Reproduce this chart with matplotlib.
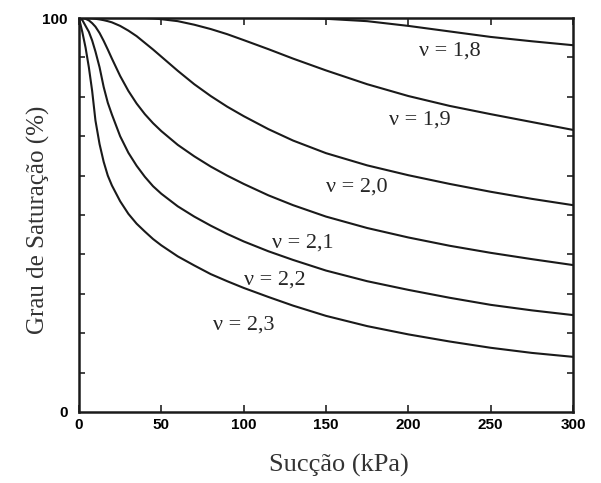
import matplotlib
matplotlib.use('Agg')
import matplotlib.pyplot as plt
from matplotlib.ticker import MultipleLocator

# Suction (kPa) and degree of saturation (%)
SUCTION = [0, 2, 4, 6, 8, 10, 12.5, 15, 17.5, 20, 25, 30, 35, 40, 45, 50,
           60, 70, 80, 90, 100, 115, 130, 150, 175, 200, 225, 250, 275, 300]

SAT_18 = [100, 100, 100, 100, 100, 100, 100, 100, 100, 100, 100, 100, 100,
          100, 100, 100, 100, 100, 100, 100, 100, 100, 99.97, 99.8, 99.2,
          98.0, 96.6, 95.2, 94.1, 93.1]
SAT_19 = [100, 100, 100, 100, 100, 100, 100, 100, 100, 100, 100, 100, 100,
          100, 99.9, 99.7, 99.2, 98.3, 97.2, 95.9, 94.4, 92.1, 89.7, 86.7,
          83.2, 80.2, 77.7, 75.6, 73.6, 71.6]
SAT_20 = [100, 100, 100, 99.98, 99.9, 99.8, 99.65, 99.45, 99.2, 98.9, 98.0,
          96.8, 95.4, 93.7, 92.0, 90.2, 86.6, 83.2, 80.2, 77.5, 75.1, 71.8,
          68.9, 65.7, 62.6, 60.1, 57.9, 55.9, 54.1, 52.5]
SAT_21 = [100, 100, 99.8, 99.4, 98.7, 97.8, 96.2, 94.2, 92.0, 89.7, 85.3,
          81.5, 78.3, 75.6, 73.3, 71.3, 67.8, 64.9, 62.3, 60.0, 57.9, 55.0,
          52.5, 49.6, 46.7, 44.3, 42.2, 40.4, 38.8, 37.3]
SAT_22 = [100, 99.5, 98.0, 96.5, 94.3, 91.5, 87.5, 82.5, 78.5, 75.5, 70.0,
          65.8, 62.5, 59.7, 57.3, 55.4, 52.2, 49.6, 47.3, 45.2, 43.3, 40.8,
          38.6, 35.9, 33.2, 31.0, 29.0, 27.2, 25.8, 24.6]
SAT_23 = [100, 96.5, 92.5, 87.5, 81.5, 74.0, 68.0, 63.5, 60.0, 57.5, 53.5,
          50.3, 47.8, 45.8, 43.9, 42.3, 39.5, 37.2, 35.0, 33.2, 31.5, 29.2,
          27.0, 24.4, 21.8, 19.7, 17.9, 16.3, 15.0, 14.0]

SERIES = [SAT_18, SAT_19, SAT_20, SAT_21, SAT_22, SAT_23]
LABELS = ['\u03bd = 1,8', '\u03bd = 1,9', '\u03bd = 2,0', '\u03bd = 2,1',
          '\u03bd = 2,2', '\u03bd = 2,3']
# label anchor points in data units (kPa, %)
LABEL_POS = [(225, 91.5), (207, 74.0), (169, 57.0), (136, 43.0),
             (119, 33.5), (100, 22.0)]

SERIF = 'Liberation Serif'
SANS = 'Liberation Sans'

fig = plt.figure(figsize=(6.01, 4.83), dpi=100)
ax = fig.add_axes([0.1314, 0.1470, 0.8220, 0.8157])

for sat in SERIES:
    ax.plot(SUCTION, sat, color='#1a1a1a', lw=1.5, solid_capstyle='round',
            solid_joinstyle='round')

for text, (x, y) in zip(LABELS, LABEL_POS):
    ax.text(x, y, text, fontsize=16, family=SERIF, color='#262626',
            ha='center', va='center')

ax.set_xlim(0, 300)
ax.set_ylim(0, 100)

ax.set_xticks([0, 50, 100, 150, 200, 250, 300])
ax.set_yticks([0, 100])
ax.yaxis.set_minor_locator(MultipleLocator(10))

for lab in ax.get_xticklabels() + ax.get_yticklabels():
    lab.set_family(SANS)
    lab.set_fontweight('bold')
    lab.set_fontsize(11)

ax.tick_params(axis='both', which='both', direction='in', top=True,
               right=True, width=1.2, color='#222222')
ax.tick_params(axis='both', which='major', length=5, pad=4)
ax.tick_params(axis='y', which='major', length=0, pad=8)
ax.tick_params(axis='y', which='minor', length=4)

for sp in ax.spines.values():
    sp.set_linewidth(1.8)
    sp.set_color('#1a1a1a')

# axis titles placed directly in figure coordinates
fig.text(339 / 601, 1 - 465 / 483, 'Sucção (kPa)', family=SERIF,
         fontsize=19, color='#333333', ha='center', va='center')
fig.text(38 / 601, 1 - 220 / 483, 'Grau de Saturação (%)', family=SERIF,
         fontsize=18, color='#333333', ha='center', va='center',
         rotation=90)

fig.savefig('out.png', dpi=100)
